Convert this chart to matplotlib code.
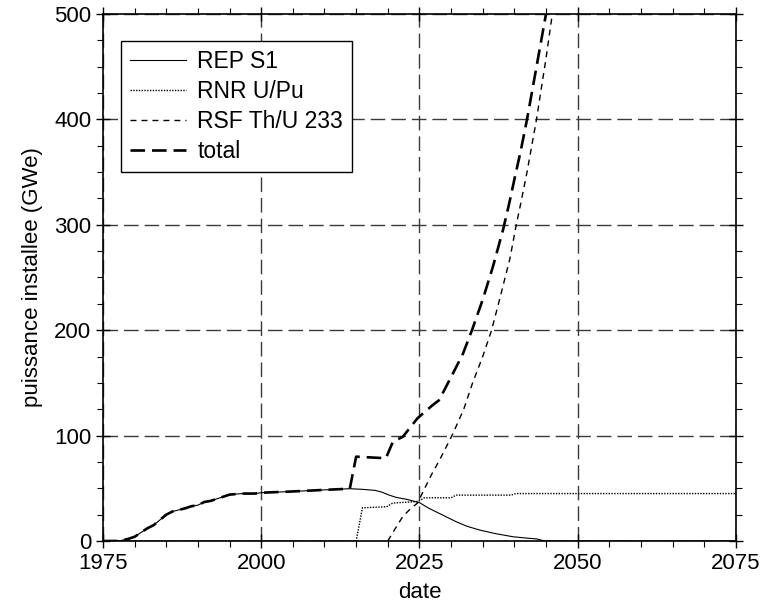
import matplotlib
matplotlib.use("Agg")
import matplotlib.pyplot as plt
from matplotlib.ticker import MultipleLocator

plt.rcParams['font.family'] = ['Liberation Sans', 'DejaVu Sans']
plt.rcParams['lines.scale_dashes'] = False

# REP S1
rep_x = [1975, 1977.5, 1979, 1980, 1981, 1982, 1983, 1984, 1985, 1986, 1987, 1988, 1989, 1990,
         1991, 1992, 1993, 1994, 1995, 1997, 1999, 2000, 2005, 2010, 2014, 2016, 2018, 2019,
         2020, 2021.3, 2023, 2025, 2026.5, 2028.2, 2030.8, 2032.5, 2034.5, 2037, 2039.8,
         2042.4, 2043.5, 2044.8, 2075]
rep_y = [0, 0, 2, 4, 8, 12, 15, 20, 25, 28, 29.5, 31, 33, 34,
         37, 38, 40, 42, 44, 45, 45, 45.8, 47, 48.5, 49.6, 49, 48, 46.5,
         44, 41.4, 39.5, 36.4, 31, 26, 18.3, 14, 10.4, 7, 4,
         2.5, 2, 0, 0]

# RNR U/Pu
rnr_x = [1975, 2015, 2016, 2019.8, 2020.8, 2024.8, 2025.8, 2030, 2030.8, 2039.5, 2040.2, 2075]
rnr_y = [0, 0, 31.5, 32.5, 36, 37.5, 41, 41, 43.5, 43.5, 45, 45]

# RSF Th/U 233
rsf_x = [2020, 2021, 2022.4, 2023.5, 2024.7, 2026, 2027, 2028.2, 2029.3, 2030.3, 2032,
         2033.4, 2035, 2036.4, 2037.7, 2039.3, 2040.3, 2041, 2042, 2043.5, 2045, 2046, 2047]
rsf_y = [0, 10, 23.5, 30, 36, 52, 64, 77, 90, 102, 125,
         150, 175, 200, 230, 268, 300, 320, 350, 400, 458, 500, 545]

# total
tot_x = [1975, 1977.5, 1979, 1980, 1981, 1982, 1983, 1984, 1985, 1986, 1987, 1988, 1989, 1990,
         1991, 1992, 1993, 1994, 1995, 1997, 1999, 2000, 2005, 2010, 2014, 2015, 2019.7,
         2020.8, 2022.4, 2024.7, 2027.1, 2028.2, 2028.7, 2030.3, 2031.9, 2033.3, 2035,
         2036.6, 2038.2, 2039.1, 2040, 2041, 2042, 2043.5, 2045, 2046]
tot_y = [0, 0, 2, 4, 8, 12, 15, 20, 25, 28, 29.5, 31, 33, 34,
         37, 38, 40, 42, 44, 45, 45, 45.8, 47, 48.5, 49.6, 80, 78.5,
         94, 99, 116.5, 129, 134, 140.5, 159, 178, 200, 229,
         260, 295, 318, 343, 370, 400, 450, 500, 540]

x_ticks = [1975, 2000, 2025, 2050, 2075]
y_ticks = [0, 100, 200, 300, 400, 500]

fig = plt.figure(figsize=(7.61, 6.05), dpi=100)
ax = fig.add_axes([0.1353, 0.1058, 0.8317, 0.8711])

ax.plot(rep_x, rep_y, color='black', lw=0.8, label='REP S1', zorder=3)
ax.plot(rnr_x, rnr_y, color='black', lw=1.0, dashes=(1, 1), label='RNR U/Pu', zorder=3)
ax.plot(rsf_x, rsf_y, color='black', lw=1.0, dashes=(4.3, 3.6), label='RSF Th/U 233', zorder=3)
ax.plot(tot_x, tot_y, color='black', lw=1.9, dashes=(10.5, 5), label='total', zorder=4)

ax.set_xlim(1975, 2075)
ax.set_ylim(0, 500)
ax.set_xticks(x_ticks)
ax.set_yticks(y_ticks)
ax.xaxis.set_minor_locator(MultipleLocator(5))
ax.yaxis.set_minor_locator(MultipleLocator(25))
ax.tick_params(which='major', direction='inout', length=10, width=1, labelsize=16,
               top=True, right=True, color='black')
ax.tick_params(which='minor', direction='out', length=4, width=0.8, top=True, right=True)
ax.grid(True, which='major', color='#3a3a3a', lw=1.0, dashes=(10.5, 4.3))
ax.set_axisbelow(True)
for s in ax.spines.values():
    s.set_linewidth(1.2)

ax.set_xlabel('date', fontsize=16, labelpad=6)
ax.set_ylabel('puissance installee (GWe)', fontsize=16, labelpad=8)

leg = ax.legend(loc='upper left', bbox_to_anchor=(0.0284, 0.9488), borderaxespad=0,
                fontsize=16.5, frameon=True, fancybox=False, edgecolor='black',
                framealpha=1, handlelength=2.45, handletextpad=0.48,
                borderpad=0.4, labelspacing=0.3)
leg.get_frame().set_linewidth(1.0)

fig.savefig('out.png', dpi=100)
